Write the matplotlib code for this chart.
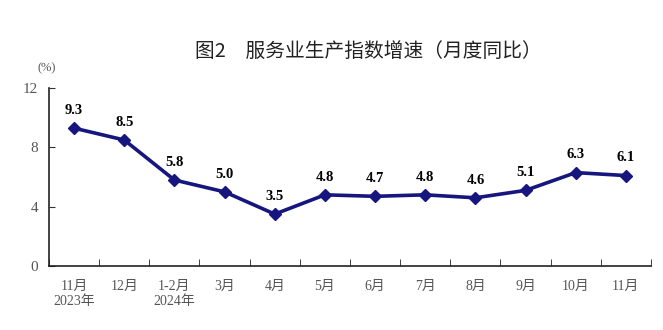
import matplotlib.pyplot as plt

plt.rcParams['font.family'] = ['Liberation Serif', 'Noto Sans CJK SC']

months = ['11月\n2023年', '12月', '1-2月\n2024年', '3月', '4月', '5月',
          '6月', '7月', '8月', '9月', '10月', '11月']
growth = [9.3, 8.5, 5.8, 5.0, 3.5, 4.8, 4.7, 4.8, 4.6, 5.1, 6.3, 6.1]
yticks = [0, 4, 8, 12]

navy = '#16167e'

fig = plt.figure(figsize=(6.63, 3.3), dpi=100)
ax = fig.add_axes([0.0739, 0.194, 0.908, 0.539])

x = list(range(len(growth)))
ax.plot(x, growth, color=navy, lw=2.6, marker='D', ms=6.5, mec=navy, mfc=navy)
for xi, v in zip(x, growth):
    ax.annotate(f'{v:.1f}', (xi, v), xytext=(0, 8), textcoords='offset points',
                ha='center', va='bottom', fontsize=10.5, fontweight='bold')

ax.set_xlim(-0.5, len(growth) - 0.5)
ax.set_ylim(0, 12)
ax.set_yticks(yticks)
ax.tick_params(axis='y', direction='in', length=4, labelsize=11, colors='#333333',
               labelcolor='#555555', pad=8)

# category labels centred, ticks on the boundaries
ax.set_xticks(x)
ax.set_xticklabels(months, fontsize=10, color='#555555', linespacing=1.25)
ax.tick_params(axis='x', which='major', length=0, pad=10)
ax.set_xticks([i - 0.5 for i in range(len(growth) + 1)], minor=True)
ax.tick_params(axis='x', which='minor', direction='in', length=5, color='#222222')

for s in ['top', 'right']:
    ax.spines[s].set_visible(False)
for s in ['left', 'bottom']:
    ax.spines[s].set_color('#222222')
    ax.spines[s].set_linewidth(1.2)

fig.text(0.071, 0.775, '(%)', ha='center', va='bottom', fontsize=9, color='#555555')
fig.text(0.556, 0.845, '图2　服务业生产指数增速（月度同比）', ha='center', va='center',
         fontsize=14.2, family=['Noto Sans CJK SC'], color='#222222')

fig.savefig('out.png', dpi=100)
